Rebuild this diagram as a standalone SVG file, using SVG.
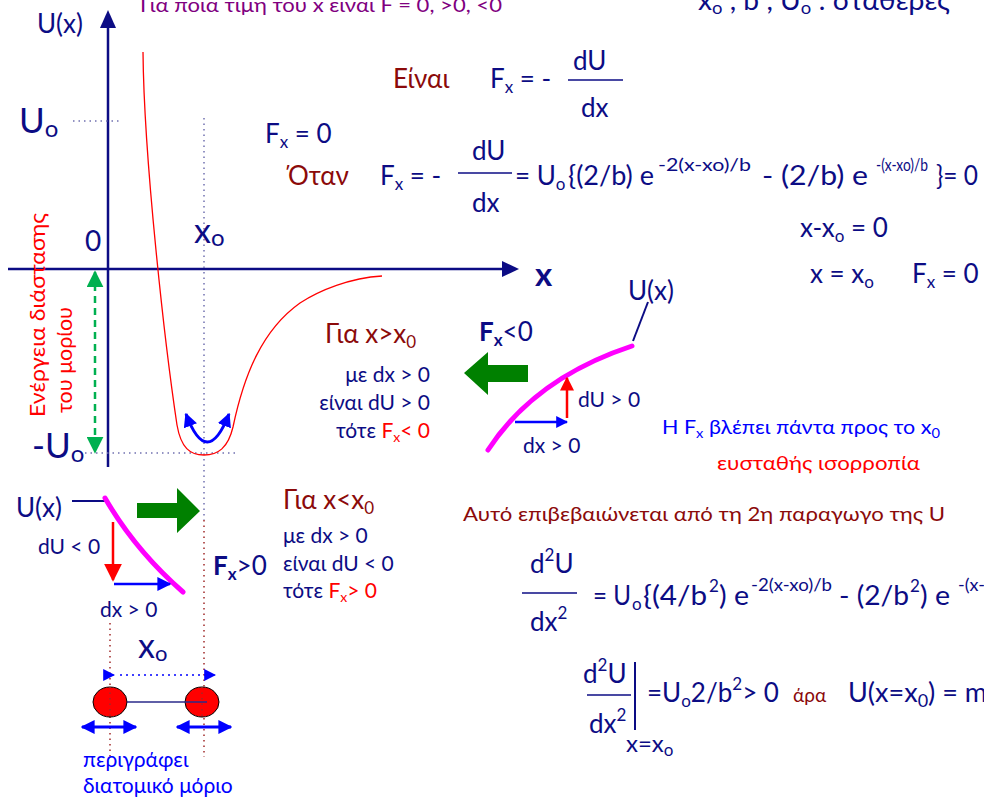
<svg xmlns="http://www.w3.org/2000/svg" width="984" height="800" viewBox="0 0 984 800">
<style>
text{font-family:Lato,"Open Sans","Noto Sans",sans-serif}
.n{fill:#0c0c84}
.dr{fill:#8b0a0a}
.L{font-size:26px}
.M{font-size:21px}
.S{font-size:19px}
.sp{font-size:18px}
.ax{stroke:#0c0c84;stroke-width:2.5;fill:none}
.dotb{stroke:#7070b0;stroke-width:1.5;stroke-dasharray:1.5 4;fill:none}
.dotr{stroke:#a02828;stroke-width:1.5;stroke-dasharray:1.5 4;fill:none}
.frac{stroke:#0c0c84;stroke-width:1.5}
</style>
<defs>
<marker id="mb" viewBox="0 0 10 10" refX="9" refY="5" markerWidth="14" markerHeight="14" markerUnits="userSpaceOnUse" orient="auto-start-reverse"><path d="M0,0 L10,5 L0,10 z" fill="#0000ff"/></marker>
<marker id="mbs" viewBox="0 0 10 10" refX="9" refY="5" markerWidth="12" markerHeight="12" markerUnits="userSpaceOnUse" orient="auto-start-reverse"><path d="M0,0 L10,5 L0,10 z" fill="#0000ff"/></marker>
<marker id="mr" viewBox="0 0 10 10" refX="9" refY="5" markerWidth="14" markerHeight="14" markerUnits="userSpaceOnUse" orient="auto-start-reverse"><path d="M0,0 L10,5 L0,10 z" fill="#ff0000"/></marker>
<marker id="mrb" viewBox="0 0 10 10" refX="9" refY="5" markerWidth="18" markerHeight="18" markerUnits="userSpaceOnUse" orient="auto-start-reverse"><path d="M0,0 L10,5 L0,10 z" fill="#ff0000"/></marker>
<marker id="mg" viewBox="0 0 10 10" refX="9" refY="5" markerWidth="17" markerHeight="17" markerUnits="userSpaceOnUse" orient="auto-start-reverse"><path d="M0,0 L10,5 L0,10 z" fill="#00b050"/></marker>
</defs>

<g id="axes">
<line class="ax" x1="108" y1="467" x2="108" y2="24"/>
<polygon points="108,10 100,28 116,28" fill="#0c0c84"/>
<line class="ax" x1="8" y1="269" x2="504" y2="269"/>
<polygon points="519,269 502,261 502,277" fill="#0c0c84"/>
</g>

<g id="guides">
<line class="dotb" x1="73" y1="121" x2="120" y2="121"/>
<line class="dotb" x1="204" y1="118" x2="204" y2="520"/>
<line class="dotb" x1="85" y1="453" x2="235" y2="453"/>
<line class="dotr" x1="204" y1="520" x2="204" y2="757"/>
<line class="dotr" x1="110" y1="623" x2="110" y2="757"/>
</g>

<g id="potential">
<path d="M143,52 C144,160 165,345 177,425 C181,448 190,455 204,455 C218,455 228,448 233,427 C244,375 262,330 300,303 C320,290 350,278 382,276" fill="none" stroke="#ff0000" stroke-width="1.3"/>
</g>

<g id="connectors">
<path d="M186,414 Q207,470 229,414" fill="none" stroke="#0000ff" stroke-width="3" marker-start="url(#mb)" marker-end="url(#mb)"/>
<line x1="95" y1="272" x2="95" y2="452" stroke="#00b050" stroke-width="2.5" stroke-dasharray="7 5" marker-start="url(#mg)" marker-end="url(#mg)"/>
<path d="M488,450 Q535,378 632,346" fill="none" stroke="#ff00ff" stroke-width="5" stroke-linecap="round"/>
<line x1="648" y1="302" x2="633" y2="341" stroke="#0c0c84" stroke-width="2"/>
<line x1="567" y1="418" x2="567" y2="378" stroke="#ff0000" stroke-width="2.5" marker-end="url(#mr)"/>
<line x1="515" y1="422" x2="567" y2="422" stroke="#0000ff" stroke-width="2.5" marker-end="url(#mbs)"/>
<polygon points="464,373 488,352 488,365 528,365 528,382 488,382 488,395" fill="#008000"/>
<line x1="72" y1="501" x2="106" y2="501" stroke="#0c0c84" stroke-width="2"/>
<path d="M105,498 Q135,550 183,592" fill="none" stroke="#ff00ff" stroke-width="5" stroke-linecap="round"/>
<line x1="113" y1="522" x2="113" y2="580" stroke="#ff0000" stroke-width="2.5" marker-end="url(#mrb)"/>
<line x1="114" y1="584" x2="170" y2="584" stroke="#0000ff" stroke-width="2.5" marker-end="url(#mb)"/>
<polygon points="137,503 177,503 177,488 200,511 177,533 177,518 137,518" fill="#008000"/>
</g>

<g id="molecule">
<line x1="120" y1="675" x2="208" y2="675" stroke="#0000ff" stroke-width="1.5" stroke-dasharray="2 4"/>
<path d="M114,675 L113,675 M214,675 L215,675" stroke="#0000ff" stroke-width="1" fill="none" marker-start="url(#mbs)" marker-end="url(#mbs)"/>
<ellipse cx="110" cy="702" rx="17" ry="15" fill="#ff0000" stroke="#000" stroke-width="1"/>
<ellipse cx="202" cy="702" rx="17" ry="15" fill="#ff0000" stroke="#000" stroke-width="1"/>
<line x1="127" y1="702" x2="207" y2="702" stroke="#2a2a8a" stroke-width="1.5"/>
<line class="dotr" x1="110" y1="687" x2="110" y2="717"/>
<line class="dotr" x1="202" y1="687" x2="202" y2="717"/>
<line x1="82" y1="727" x2="136" y2="727" stroke="#0000ff" stroke-width="3" marker-start="url(#mb)" marker-end="url(#mb)"/>
<line x1="177" y1="727" x2="231" y2="727" stroke="#0000ff" stroke-width="3" marker-start="url(#mb)" marker-end="url(#mb)"/>
<text class="n" x="138" y="658" font-size="34">x<tspan font-size="22" dy="3">o</tspan></text>
<text x="83" y="767" class="M" fill="#0000ff">περιγράφει</text>
<text x="83" y="793" class="M" fill="#0000ff">διατομικό μόριο</text>
</g>

<g id="axis-labels">
<text x="140" y="12" font-size="20" fill="#800080" textLength="362" lengthAdjust="spacingAndGlyphs">Για ποια τιμη του x ειναι F = 0, &gt;0, &lt;0</text>
<text class="n L" x="698" y="10" textLength="252" lengthAdjust="spacingAndGlyphs">x<tspan font-size="17" dy="4">o</tspan><tspan dy="-4"> , b , U</tspan><tspan font-size="17" dy="4">o</tspan><tspan dy="-4"> : σταθερες</tspan></text>
<text class="n L" x="37" y="33">U(x)</text>
<text class="n" x="19" y="133" font-size="35">U<tspan font-size="24" dy="4">o</tspan></text>
<text class="n" x="85" y="251" font-size="28">0</text>
<text class="n" x="194" y="243" font-size="34">x<tspan font-size="24" dy="3">o</tspan></text>
<text class="n" x="535" y="286" font-size="33" font-weight="bold">x</text>
<text class="n" x="32" y="458" font-size="35">-U<tspan font-size="24" dy="4">o</tspan></text>
<text transform="translate(45,417) rotate(-90)" font-size="21" fill="#ff0000" textLength="204" lengthAdjust="spacingAndGlyphs">Ενέργεια διάστασης</text>
<text transform="translate(72,413) rotate(-90)" font-size="21" fill="#ff0000" textLength="106" lengthAdjust="spacingAndGlyphs">του μορίου</text>
</g>

<g id="eq1">
<text class="dr L" x="393" y="88">Είναι</text>
<text class="n L" x="490" y="88">F<tspan font-size="17" dy="5">x</tspan><tspan dy="-5"> = -</tspan></text>
<text class="n L" x="573" y="70">dU</text>
<line class="frac" x1="568" y1="80" x2="623" y2="80"/>
<text class="n L" x="581" y="117">dx</text>
</g>

<g id="eq2">
<text class="n L" x="265" y="143">F<tspan font-size="17" dy="5">x</tspan><tspan dy="-5"> = 0</tspan></text>
<text class="dr L" x="288" y="185">Όταν</text>
<text class="n L" x="380" y="185">F<tspan font-size="17" dy="5">x</tspan><tspan dy="-5"> = -</tspan></text>
<text class="n L" x="472" y="160">dU</text>
<line class="frac" x1="458" y1="173" x2="512" y2="173"/>
<text class="n L" x="472" y="212">dx</text>
<text class="n L" x="515" y="185">= U<tspan font-size="17" dy="5">o</tspan></text>
<text class="n L" x="568" y="185" textLength="86" lengthAdjust="spacingAndGlyphs">{(2/b) e</text>
<text class="n sp" x="658" y="171" textLength="93" lengthAdjust="spacingAndGlyphs">-2(x-xo)/b</text>
<text class="n L" x="762" y="185" textLength="106" lengthAdjust="spacingAndGlyphs">- (2/b) e</text>
<text class="n sp" x="876" y="171" textLength="52" lengthAdjust="spacingAndGlyphs">-(x-xo)/b</text>
<text class="n L" x="936" y="185" textLength="42" lengthAdjust="spacingAndGlyphs">}= 0</text>
<text class="n L" x="800" y="237">x-x<tspan font-size="17" dy="5">o</tspan><tspan dy="-5"> = 0</tspan></text>
<text class="n L" x="810" y="283">x = x<tspan font-size="17" dy="5">o</tspan></text>
<text class="n L" x="912" y="283">F<tspan font-size="17" dy="5">x</tspan><tspan dy="-5"> = 0</tspan></text>
</g>

<g id="right-slope">
<text class="n L" x="628" y="300">U(x)</text>
<text class="n L" x="479" y="341"><tspan font-weight="bold">F</tspan><tspan font-weight="bold" font-size="17" dy="5">x</tspan><tspan dy="-5">&lt;0</tspan></text>
<text class="dr L" x="325" y="343">Για x&gt;x<tspan font-size="17" dy="5">0</tspan></text>
<text class="n M" x="430" y="382" text-anchor="end">με dx &gt; 0</text>
<text class="n M" x="430" y="410" text-anchor="end">είναι dU &gt; 0</text>
<text class="n M" x="430" y="438" text-anchor="end">τότε <tspan fill="#ff0000">F<tspan font-size="14" dy="4">x</tspan><tspan dy="-4">&lt; 0</tspan></tspan></text>
<text class="n M" x="578" y="407">dU &gt; 0</text>
<text class="n M" x="523" y="453">dx &gt; 0</text>
<text class="S" x="662" y="434" fill="#0000ff" textLength="278" lengthAdjust="spacingAndGlyphs">Η F<tspan font-size="13" dy="4">x</tspan><tspan dy="-4"> βλέπει πάντα προς το x</tspan><tspan font-size="13" dy="4">0</tspan></text>
<text class="S" x="717" y="470" fill="#ff0000" textLength="203" lengthAdjust="spacingAndGlyphs">ευσταθής ισορροπία</text>
</g>

<g id="left-slope">
<text class="n L" x="16" y="517">U(x)</text>
<text class="n M" x="38" y="554">dU &lt; 0</text>
<text class="n M" x="100" y="617">dx &gt; 0</text>
<text class="n L" x="213" y="575"><tspan font-weight="bold">F</tspan><tspan font-weight="bold" font-size="17" dy="5">x</tspan><tspan dy="-5">&gt;0</tspan></text>
<text class="dr L" x="283" y="509">Για x&lt;x<tspan font-size="17" dy="5">0</tspan></text>
<text class="n M" x="283" y="543">με dx &gt; 0</text>
<text class="n M" x="283" y="571">είναι dU &lt; 0</text>
<text class="n M" x="283" y="598">τότε <tspan fill="#ff0000">F<tspan font-size="14" dy="4">x</tspan><tspan dy="-4">&gt; 0</tspan></tspan></text>
</g>

<g id="second-derivative">
<text class="S dr" x="463" y="521" textLength="482" lengthAdjust="spacingAndGlyphs">Αυτό επιβεβαιώνεται από τη 2η παραγωγο της U</text>
<text class="n L" x="530" y="573">d<tspan font-size="17" dy="-12">2</tspan><tspan dy="12">U</tspan></text>
<line class="frac" x1="522" y1="593" x2="577" y2="593"/>
<text class="n L" x="530" y="631">dx<tspan font-size="17" dy="-12">2</tspan></text>
<text class="n L" x="593" y="605" textLength="38" lengthAdjust="spacingAndGlyphs">= U</text>
<text class="n" x="632" y="610" font-size="17">o</text>
<text class="n L" x="643" y="605" textLength="64" lengthAdjust="spacingAndGlyphs">{(4/b</text>
<text class="n" x="709" y="592" font-size="17">2</text>
<text class="n L" x="719" y="605" textLength="30" lengthAdjust="spacingAndGlyphs">) e</text>
<text class="n sp" x="751" y="591" textLength="81" lengthAdjust="spacingAndGlyphs">-2(x-xo)/b</text>
<text class="n L" x="839" y="605" textLength="70" lengthAdjust="spacingAndGlyphs">- (2/b</text>
<text class="n" x="910" y="592" font-size="17">2</text>
<text class="n L" x="920" y="605" textLength="30" lengthAdjust="spacingAndGlyphs">) e</text>
<text class="n sp" x="958" y="591">-(x-xo)/b</text>
<text class="n L" x="583" y="683">d<tspan font-size="17" dy="-12">2</tspan><tspan dy="12">U</tspan></text>
<line class="frac" x1="587" y1="695" x2="631" y2="695"/>
<text class="n L" x="589" y="733">dx<tspan font-size="17" dy="-12">2</tspan></text>
<line x1="635" y1="662" x2="635" y2="730" stroke="#0c0c84" stroke-width="2"/>
<text class="n" x="626" y="752" font-size="24">x=x<tspan font-size="17" dy="4">o</tspan></text>
<text class="n L" x="647" y="702">=U<tspan font-size="17" dy="5">o</tspan><tspan dy="-5">2/b</tspan><tspan font-size="17" dy="-12">2</tspan><tspan dy="12">&gt; 0</tspan></text>
<text class="S dr" x="793" y="702">άρα</text>
<text class="n" x="848" y="702" font-size="27">U(x=x<tspan font-size="18" dy="5">0</tspan><tspan dy="-5">) = min</tspan></text>
</g>
</svg>
